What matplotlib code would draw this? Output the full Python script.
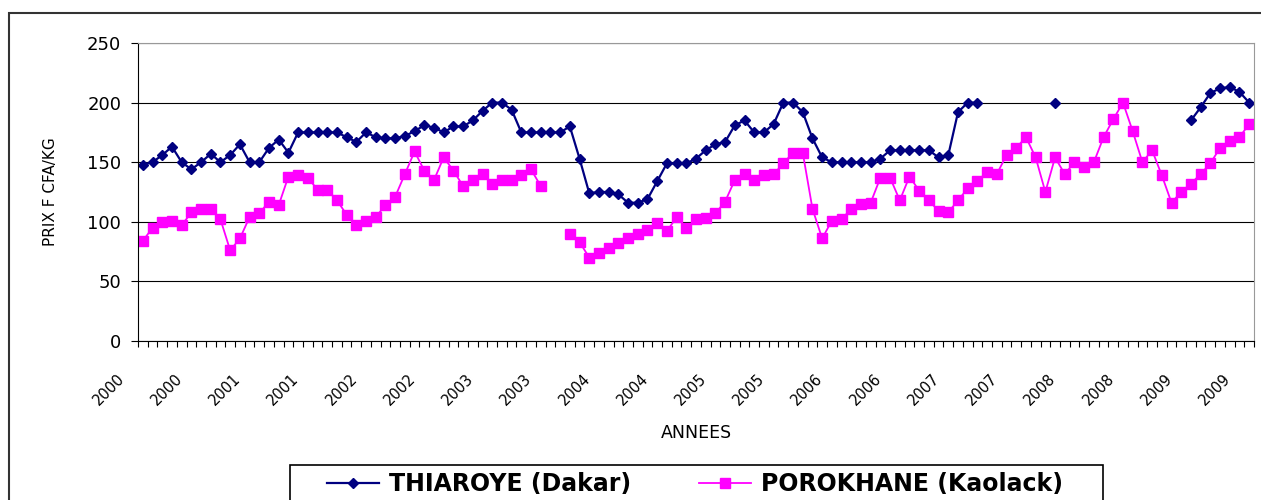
import numpy as np
import matplotlib
matplotlib.use("Agg")
import matplotlib.pyplot as plt
from matplotlib.transforms import ScaledTranslation
from matplotlib.patches import Rectangle

# prix mensuels (F CFA/kg), janvier 2000 -> juillet 2009, None = pas de relevé
thiaroye = [148, 150, 156, 163, 150, 144, 150, 157, 150, 156, 165, 150,
            150, 162, 169, 158, 175, 175, 175, 175, 175, 171, 167, 175,
            171, 170, 170, 172, 176, 181, 179, 175, 180, 180, 185, 193,
            200, 200, 194, 175, 175, 175, 175, 175, 180, 153, 124, 125,
            125, 123, 116, 116, 119, 134, 149, 149, 149, 153, 160, 165,
            167, 181, 185, 175, 175, 182, 200, 200, 192, 170, 154, 150,
            150, 150, 150, 150, 153, 160, 160, 160, 160, 160, 154, 156,
            192, 200, 200, None, None, None, None, None, None, None, 200, None,
            None, None, None, None, None, None, None, None, None, None, None, None,
            185, 196, 208, 212, 213, 209, 200]
porokhane = [84, 95, 100, 101, 97, 108, 111, 111, 102, 76, 86, 104,
             107, 117, 114, 138, 139, 137, 127, 127, 118, 106, 97, 101,
             104, 114, 121, 140, 159, 143, 135, 154, 143, 130, 135, 140,
             132, 135, 135, 139, 144, 130, None, None, 90, 83, 70, 74,
             78, 82, 86, 90, 93, 99, 92, 104, 95, 102, 103, 107,
             117, 135, 140, 135, 139, 140, 149, 158, 158, 111, 86, 101,
             102, 111, 115, 116, 137, 137, 118, 138, 126, 118, 109, 108,
             118, 128, 134, 142, 140, 156, 162, 171, 154, 125, 154, 140,
             150, 146, 150, 171, 186, 200, 176, 150, 160, 139, 116, 125,
             132, 140, 149, 162, 168, 171, 182]
annees = [str(a) for a in range(2000, 2010) for _ in range(2)]

t = np.array(thiaroye, dtype=float)
p = np.array(porokhane, dtype=float)
n = len(t)
x = np.arange(n)

fig = plt.figure(figsize=(12.61, 5), dpi=100)
ax = fig.add_axes([138 / 1261, 1 - 341 / 500, (1254 - 138) / 1261, (341 - 43) / 500])

ax.plot(x, t, color="#000080", lw=1.6, marker="D", ms=5.5, label="THIAROYE (Dakar)")
ax.plot(x, p, color="#FF00FF", lw=1.3, marker="s", ms=6.8, label="POROKHANE (Kaolack)")

ax.set_xlim(-0.5, n - 0.5)
ax.set_ylim(0, 250)
ax.set_yticks(np.arange(0, 251, 50))
ax.yaxis.grid(True, color="black", lw=0.8)
ax.set_axisbelow(True)

ax.set_xticks(x[::6])
ax.set_xticklabels(annees, rotation=45, ha="right", va="center",
                   rotation_mode="anchor", fontsize=10.5)
ax.set_xticks(np.arange(-0.5, n, 1), minor=True)
ax.tick_params(axis="x", which="major", length=0, pad=0)
ax.tick_params(axis="x", which="minor", length=4, direction="out", width=0.8)
ax.tick_params(axis="y", length=5, direction="out", labelsize=13, pad=7, width=0.8)

# décalage des étiquettes comme dans Excel
off = ScaledTranslation(-0.21, -0.35, fig.dpi_scale_trans)
for lab in ax.get_xticklabels():
    lab.set_transform(lab.get_transform() + off)

for s in ["top", "right"]:
    ax.spines[s].set_color("#999999")
for s in ["left", "bottom"]:
    ax.spines[s].set_color("black")

ax.set_ylabel("PRIX F CFA/KG", fontsize=11, va="center")
ax.yaxis.set_label_coords((50 - 138) / 1116, 0.5)
ax.set_xlabel("ANNEES", fontsize=12.5, va="center")
ax.xaxis.set_label_coords(0.5, (341 - 433) / 298)

h, l = ax.get_legend_handles_labels()
fig.legend(h, l, loc="center left", bbox_to_anchor=(327 / 1261, 1 - 484 / 500),
           ncol=2, frameon=False, prop={"weight": "bold", "size": 17},
           handlelength=2.2, handletextpad=0.42, columnspacing=2.9,
           borderpad=0, borderaxespad=0)

# cadre de la légende et cadre du graphique (coupés par le bord de l'image)
fig.add_artist(Rectangle((290 / 1261, -0.2), (1103 - 290) / 1261, 0.2 + 1 - 465 / 500,
                         transform=fig.transFigure, fill=False, ec="black", lw=1.2))
fig.add_artist(Rectangle((9 / 1261, -0.5), 2, 0.5 + 1 - 13 / 500,
                         transform=fig.transFigure, fill=False, ec="#333333", lw=1.5))

fig.savefig("out.png", dpi=100)
